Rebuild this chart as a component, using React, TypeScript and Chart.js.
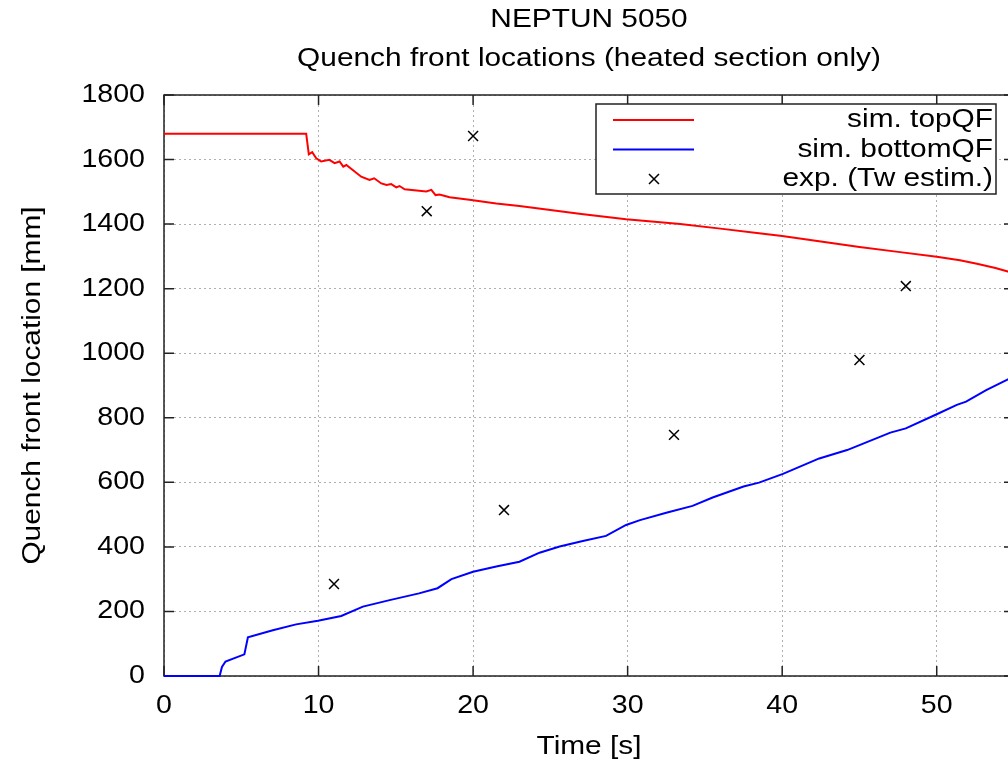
import React, { useEffect, useRef } from "react";
import { Chart, registerables } from "chart.js";
Chart.register(...registerables);

// ---- data ----
const topT = [0, 9.2, 9.37, 9.59, 9.85, 10.17, 10.7, 11.04, 11.36, 11.6, 11.8, 12.76, 13.3, 13.6, 14.06, 14.4, 14.7, 15.03, 15.24, 15.57, 16.97, 17.3, 17.57, 17.83, 18.48, 19.88, 21.5, 23.0, 25, 27, 29.9, 33.4, 36, 38.5, 40, 42.5, 45, 47.5, 50, 51.5, 52.6, 53.8, 55];
const topV = [1680, 1680, 1616, 1623, 1604, 1594, 1599, 1589, 1594, 1578, 1583, 1547, 1537, 1542, 1526, 1521, 1524, 1514, 1518, 1508, 1501, 1506, 1490, 1492, 1483, 1475, 1464, 1456, 1444, 1431, 1415, 1400, 1386, 1372, 1363, 1346, 1329, 1314, 1299, 1288, 1277, 1264, 1248];

const botT = [0, 3.6, 3.75, 3.98, 5.2, 5.43, 7.04, 8.55, 9.96, 11.47, 12.87, 14.6, 16.5, 17.7, 18.6, 20, 21.5, 23, 24.3, 25.6, 27.1, 28.6, 29.9, 30.8, 32.5, 34.2, 35.5, 37.5, 38.5, 40.05, 42.4, 44.2, 47.0, 48.0, 50, 51.3, 51.9, 53.2, 55];
const botV = [0, 0, 28, 45, 67, 120, 142, 160, 171, 186, 215, 235, 256, 272, 300, 323, 339, 354, 382, 401, 418, 434, 468, 483, 506, 527, 553, 587, 599, 626, 674, 700, 754, 767, 811, 840, 850, 886, 928];

const expT = [11, 17, 20, 22, 33, 45, 48];
const expV = [285, 1440, 1673, 514, 747, 979, 1208];

const xTicks = [0, 10, 20, 30, 40, 50];
const yTicks = [0, 200, 400, 600, 800, 1000, 1200, 1400, 1600, 1800];

const titleLines = ["NEPTUN 5050", "Quench front locations (heated section only)"];
const xTitle = "Time [s]";
const yTitle = "Quench front location [mm]";
const legendLabels = ["sim. topQF", "sim. bottomQF", "exp. (Tw estim.)"];

const FONT_PX = 25.5;
const SX = 1.17;
const SX_TICK = 1.12;

function drawText(ctx: CanvasRenderingContext2D, text: string, x: number, y: number, align: CanvasTextAlign, rot = 0, sx = SX) {
  ctx.save();
  ctx.translate(x, y);
  if (rot) ctx.rotate(rot);
  ctx.scale(sx, 1);
  ctx.font = `${FONT_PX}px "Liberation Sans", Arial, sans-serif`;
  ctx.textAlign = align;
  ctx.textBaseline = "middle";
  ctx.fillStyle = "#000";
  ctx.fillText(text, 0, 0);
  ctx.restore();
}

const gnuplotPlugin = {
  id: "gnuplotFrame",
  beforeDatasetsDraw(chart: any) {
    const { ctx, chartArea: a, scales } = chart;
    const xs = scales.x, ys = scales.y;
    ctx.save();
    ctx.strokeStyle = "#222";
    ctx.lineWidth = 1.5;
    ctx.strokeRect(a.left, a.top, a.right - a.left, a.bottom - a.top);
    ctx.beginPath();
    const tl = 10;
    xTicks.forEach((t) => {
      const px = xs.getPixelForValue(t);
      ctx.moveTo(px, a.bottom); ctx.lineTo(px, a.bottom - tl);
      ctx.moveTo(px, a.top); ctx.lineTo(px, a.top + tl);
    });
    yTicks.forEach((v) => {
      const py = ys.getPixelForValue(v);
      ctx.moveTo(a.left, py); ctx.lineTo(a.left + tl, py);
      ctx.moveTo(a.right, py); ctx.lineTo(a.right - tl, py);
    });
    ctx.stroke();
    ctx.restore();
  },
  afterDraw(chart: any) {
    const { ctx, chartArea: a, scales } = chart;
    const xs = scales.x, ys = scales.y;
    // tick labels
    xTicks.forEach((t) => drawText(ctx, String(t), xs.getPixelForValue(t), a.bottom + 30, "center", 0, SX_TICK));
    yTicks.forEach((v) => drawText(ctx, String(v), a.left - 19, ys.getPixelForValue(v), "right", 0, SX_TICK));
    const cx = (a.left + a.right) / 2;
    // titles
    drawText(ctx, titleLines[0], cx, 20, "center");
    drawText(ctx, titleLines[1], cx, 59, "center");
    drawText(ctx, xTitle, cx, 747, "center");
    drawText(ctx, yTitle, 33, (a.top + a.bottom) / 2, "center", -Math.PI / 2);
    // legend
    const bx = 596, by = 104, bw = 400, bh = 90;
    ctx.save();
    ctx.fillStyle = "#fff";
    ctx.fillRect(bx, by, bw, bh);
    ctx.strokeStyle = "#222";
    ctx.lineWidth = 1.5;
    ctx.strokeRect(bx, by, bw, bh);
    const rows = [120, 149.5, 179];
    const ds = chart.data.datasets;
    for (let i = 0; i < 2; i++) {
      ctx.strokeStyle = ds[i].borderColor;
      ctx.lineWidth = 2;
      ctx.beginPath();
      ctx.moveTo(613, rows[i]);
      ctx.lineTo(694, rows[i]);
      ctx.stroke();
    }
    ctx.strokeStyle = "#000";
    ctx.lineWidth = 1.5;
    const r = 5;
    ctx.beginPath();
    ctx.moveTo(654 - r, rows[2] - r); ctx.lineTo(654 + r, rows[2] + r);
    ctx.moveTo(654 - r, rows[2] + r); ctx.lineTo(654 + r, rows[2] - r);
    ctx.stroke();
    ctx.restore();
    legendLabels.forEach((l, i) => drawText(ctx, l, 993, rows[i], "right"));
  },
};

export default function App() {
  const ref = useRef<HTMLCanvasElement | null>(null);
  useEffect(() => {
    if (!ref.current) return;
    const chart = new Chart(ref.current, {
      type: "scatter",
      data: {
        datasets: [
          {
            label: legendLabels[0],
            data: topT.map((t, i) => ({ x: t, y: topV[i] })),
            showLine: true,
            borderColor: "#ff0000",
            backgroundColor: "#ff0000",
            borderWidth: 2,
            pointRadius: 0,
            tension: 0,
            clip: false as any,
          },
          {
            label: legendLabels[1],
            data: botT.map((t, i) => ({ x: t, y: botV[i] })),
            showLine: true,
            borderColor: "#0000ff",
            backgroundColor: "#0000ff",
            borderWidth: 2,
            pointRadius: 0,
            tension: 0,
            clip: false as any,
          },
          {
            label: legendLabels[2],
            data: expT.map((t, i) => ({ x: t, y: expV[i] })),
            showLine: false,
            pointStyle: "crossRot",
            pointRadius: 7,
            borderColor: "#000",
            borderWidth: 1.5,
            backgroundColor: "#000",
          },
        ],
      },
      options: {
        animation: false,
        responsive: false,
        maintainAspectRatio: false,
        devicePixelRatio: 1,
        layout: { padding: { top: 95, left: 0, right: 10, bottom: 0 } },
        plugins: { legend: { display: false }, tooltip: { enabled: false }, title: { display: false } },
        scales: {
          x: {
            type: "linear",
            min: 0,
            max: 55,
            ticks: { display: false, stepSize: 10, includeBounds: false },
            grid: { color: "#b0b0b0", lineWidth: 1, drawTicks: false },
            border: { display: false, dash: [2, 3] },
            afterFit: (s: any) => { s.height = 97; },
          },
          y: {
            type: "linear",
            min: 0,
            max: 1800,
            ticks: { display: false, stepSize: 200 },
            grid: { color: "#b0b0b0", lineWidth: 1, drawTicks: false },
            border: { display: false, dash: [2, 3] },
            afterFit: (s: any) => { s.width = 164; },
          },
        },
      },
      plugins: [gnuplotPlugin],
    });
    return () => chart.destroy();
  }, []);
  return (
    <div style={{ position: "absolute", left: 0, top: 0, width: 1008, height: 773, overflow: "hidden", background: "#fff" }}>
      <canvas ref={ref} width={1024} height={773} style={{ display: "block" }} />
    </div>
  );
}
